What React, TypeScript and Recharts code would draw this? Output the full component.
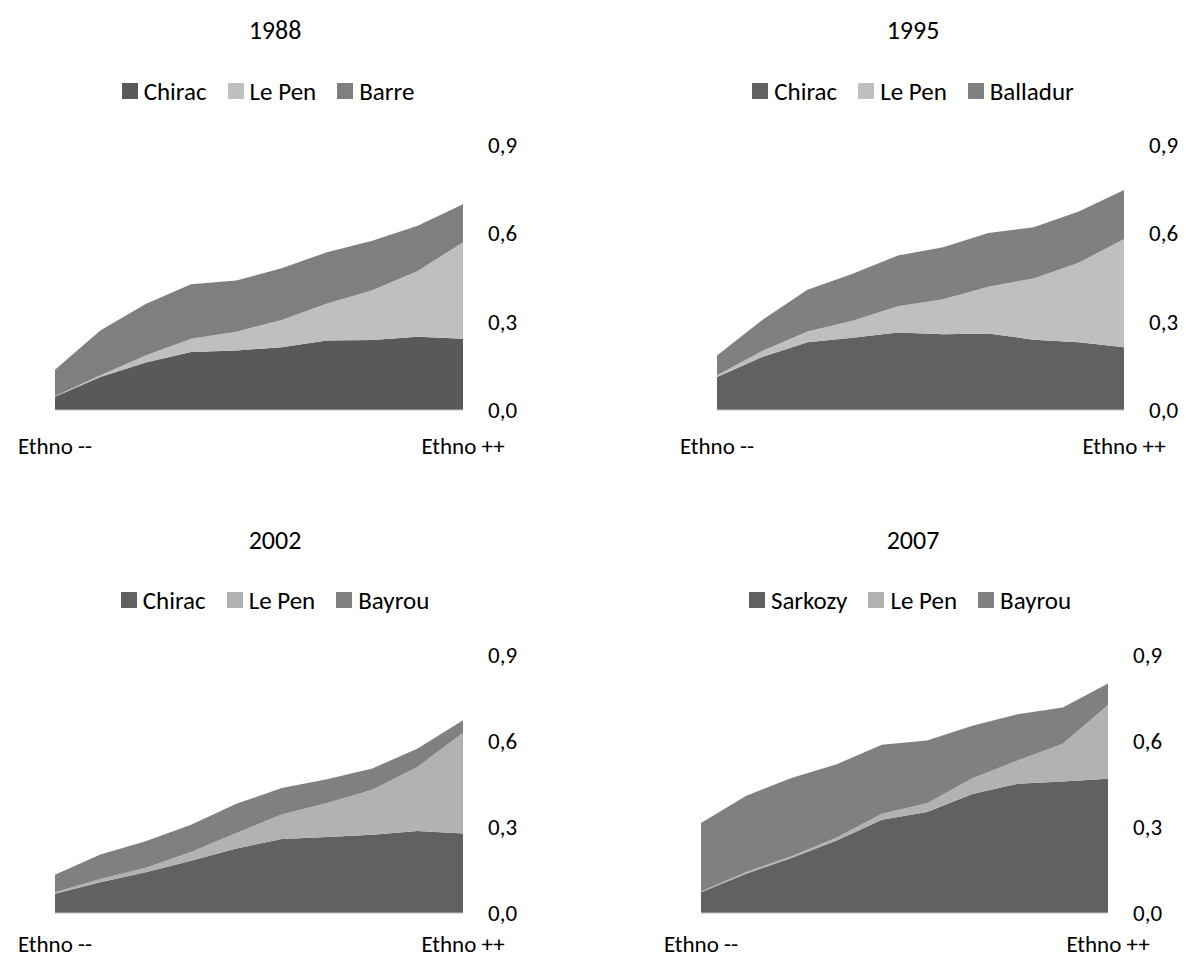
import React from 'react'
import { AreaChart, Area, XAxis, YAxis } from 'recharts'

// ten groups, from least to most "ethno"
const DECILES = [1, 2, 3, 4, 5, 6, 7, 8, 9, 10]
const X_TICKS = [1, 10]
const X_LABELS = ['Ethno --', 'Ethno ++']
const Y_TICKS = [0, 0.3, 0.6, 0.9]

const names88 = ['Chirac', 'Le Pen', 'Barre']
const chirac88 = [0.045, 0.112, 0.161, 0.197, 0.202, 0.213, 0.236, 0.238, 0.249, 0.242]
const lepen88 = [0.002, 0.006, 0.024, 0.045, 0.064, 0.093, 0.126, 0.169, 0.223, 0.328]
const barre88 = [0.090, 0.152, 0.175, 0.185, 0.174, 0.175, 0.174, 0.168, 0.154, 0.129]

const names95 = ['Chirac', 'Le Pen', 'Balladur']
const chirac95 = [0.112, 0.180, 0.230, 0.245, 0.263, 0.257, 0.260, 0.239, 0.230, 0.213]
const lepen95 = [0.006, 0.020, 0.037, 0.058, 0.089, 0.119, 0.159, 0.208, 0.270, 0.368]
const balladur95 = [0.067, 0.106, 0.141, 0.160, 0.173, 0.177, 0.182, 0.174, 0.174, 0.166]

const names02 = ['Chirac', 'Le Pen', 'Bayrou']
const chirac02 = [0.067, 0.107, 0.142, 0.182, 0.225, 0.258, 0.265, 0.273, 0.286, 0.277]
const lepen02 = [0.005, 0.012, 0.016, 0.031, 0.054, 0.086, 0.119, 0.157, 0.224, 0.352]
const bayrou02 = [0.061, 0.085, 0.092, 0.095, 0.102, 0.092, 0.083, 0.074, 0.064, 0.043]

const names07 = ['Sarkozy', 'Le Pen', 'Bayrou']
const sarkozy07 = [0.072, 0.137, 0.192, 0.253, 0.325, 0.352, 0.415, 0.451, 0.459, 0.468]
const lepen07 = [0.003, 0.006, 0.006, 0.010, 0.021, 0.031, 0.055, 0.081, 0.131, 0.258]
const bayrou07 = [0.239, 0.266, 0.273, 0.256, 0.241, 0.219, 0.183, 0.161, 0.127, 0.075]

const FONT = 'Carlito, Calibri, Lato, sans-serif'

interface Box { x0: number; x1: number; top: number; base: number }

interface PanelProps {
  year: string
  names: string[]
  colors: string[]
  series: number[][]
  box: Box
  cx: number
  legendCx: number
  titleY: number
  legendY: number
  labelGap: number
}

const ML = 70
const MT = 20
const MR = 10
const YW = 80

function Panel({ year, names, colors, series, box, cx, legendCx, titleY, legendY, labelGap }: PanelProps) {
  const data = DECILES.map((d, i) => ({ d, s0: series[0][i], s1: series[1][i], s2: series[2][i] }))
  const xh = labelGap + 26
  const width = ML + (box.x1 - box.x0) + YW + MR
  const height = MT + (box.base - box.top) + xh

  return (
    <>
      <div style={{
        position: 'absolute', left: cx - 150, width: 300, top: titleY - 18, height: 36,
        textAlign: 'center', fontSize: 26, lineHeight: '36px', fontFamily: FONT, color: '#000',
      }}>
        {year}
      </div>
      <div style={{
        position: 'absolute', left: legendCx - 250, width: 500, top: legendY - 16, height: 32,
        display: 'flex', justifyContent: 'center', alignItems: 'center', gap: 21,
        fontFamily: FONT, fontSize: 25, color: '#000',
      }}>
        {names.map((n, i) => (
          <div key={n + i} style={{ display: 'flex', alignItems: 'center', gap: 6 }}>
            <span style={{ width: 16, height: 16, background: colors[i], display: 'inline-block' }} />
            <span>{n}</span>
          </div>
        ))}
      </div>
      <div style={{ position: 'absolute', left: box.x0 - ML, top: box.top - MT }}>
        <AreaChart width={width} height={height} data={data}
          margin={{ top: MT, right: MR, left: ML, bottom: 0 }}>
          <XAxis
            dataKey="d"
            type="number"
            domain={[1, 10]}
            ticks={X_TICKS}
            interval={0}
            tickFormatter={(v: number) => X_LABELS[X_TICKS.indexOf(v)]}
            tickLine={false}
            tickSize={0}
            tickMargin={labelGap}
            axisLine={{ stroke: '#bfbfbf' }}
            height={xh}
            tick={{ fontSize: 23, fill: '#000', fontFamily: FONT }}
          />
          <YAxis
            orientation="right"
            domain={[0, 0.9]}
            ticks={Y_TICKS}
            interval={0}
            tickFormatter={(v: number) => v.toFixed(1).replace('.', ',')}
            axisLine={false}
            tickLine={false}
            tickSize={0}
            tickMargin={25}
            width={YW}
            tick={{ fontSize: 23, fill: '#000', fontFamily: FONT, textAnchor: 'start' }}
          />
          {[0, 1, 2].map(k => (
            <Area
              key={k}
              type="linear"
              dataKey={'s' + k}
              stackId="a"
              stroke="none"
              fill={colors[k]}
              fillOpacity={1}
              isAnimationActive={false}
            />
          ))}
        </AreaChart>
      </div>
    </>
  )
}

export default function App() {
  return (
    <div style={{ position: 'absolute', left: 0, top: 0, width: 1186, height: 957, background: '#fff', overflow: 'hidden' }}>
      <Panel year="1988" names={names88} colors={['#595959', '#bfbfbf', '#7f7f7f']}
        series={[chirac88, lepen88, barre88]}
        box={{ x0: 55, x1: 463, top: 145, base: 410 }} cx={275} legendCx={268}
        titleY={30} legendY={91} labelGap={28} />
      <Panel year="1995" names={names95} colors={['#616161', '#bfbfbf', '#808080']}
        series={[chirac95, lepen95, balladur95]}
        box={{ x0: 717, x1: 1124, top: 145, base: 410 }} cx={913} legendCx={913}
        titleY={30} legendY={91} labelGap={28} />
      <Panel year="2002" names={names02} colors={['#616161', '#b2b2b2', '#808080']}
        series={[chirac02, lepen02, bayrou02]}
        box={{ x0: 55, x1: 463, top: 655, base: 913 }} cx={275} legendCx={275}
        titleY={540} legendY={600} labelGap={23} />
      <Panel year="2007" names={names07} colors={['#616161', '#b2b2b2', '#808080']}
        series={[sarkozy07, lepen07, bayrou07]}
        box={{ x0: 701, x1: 1108, top: 655, base: 913 }} cx={913} legendCx={910}
        titleY={540} legendY={600} labelGap={23} />
    </div>
  )
}
